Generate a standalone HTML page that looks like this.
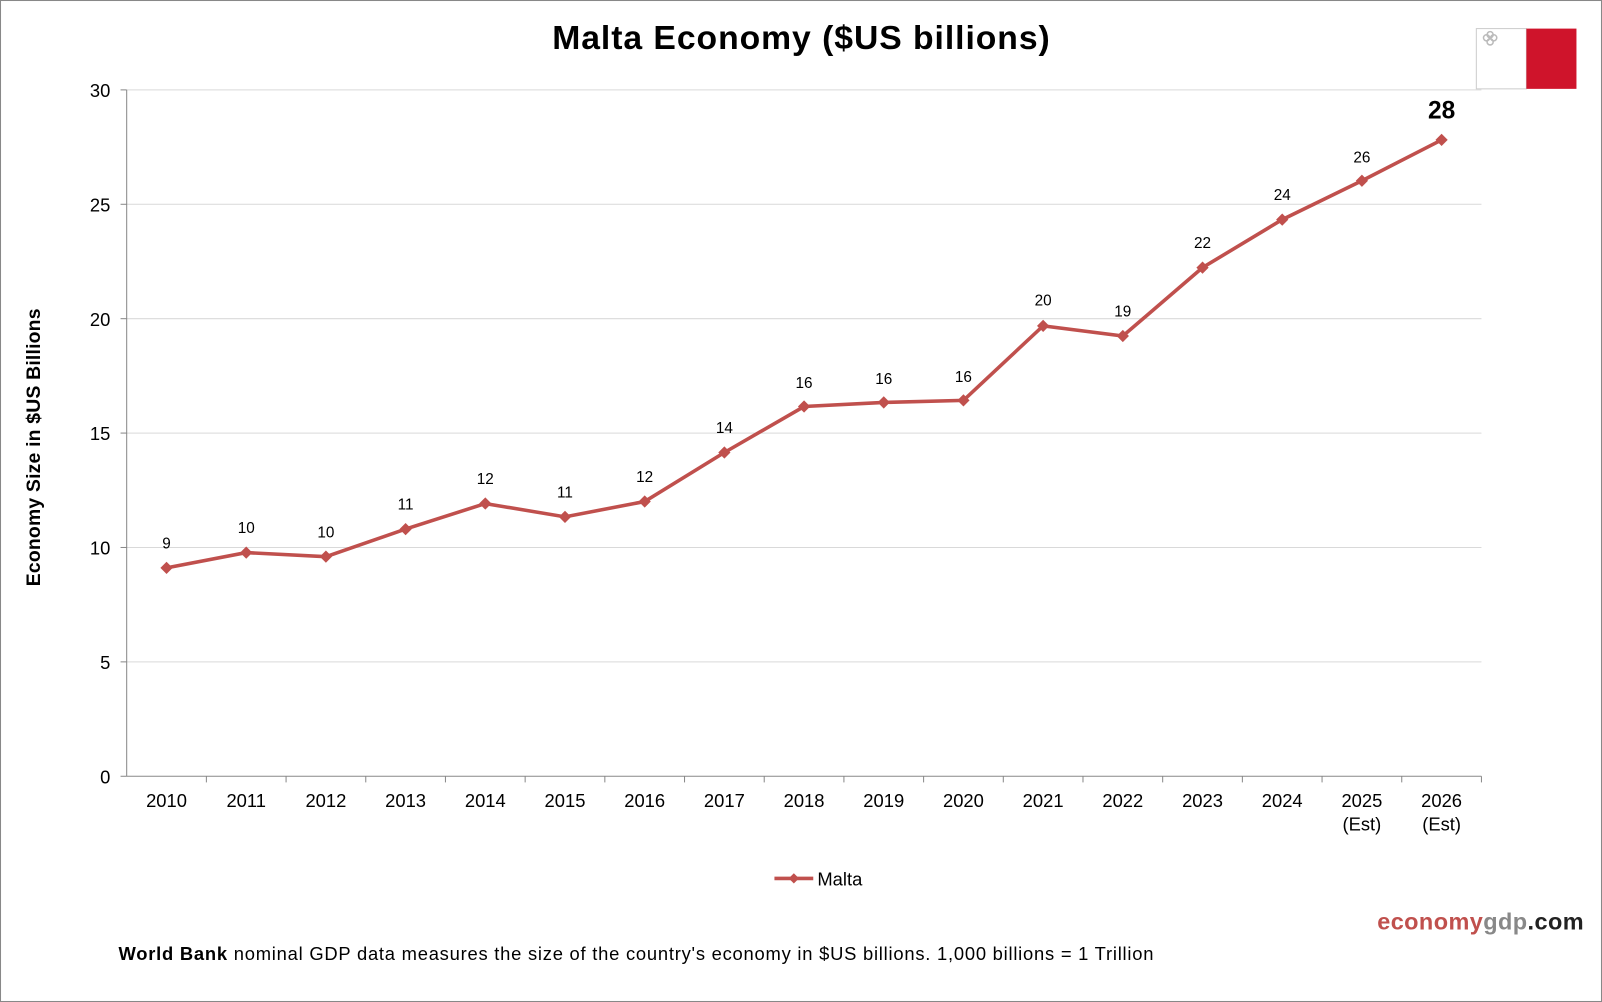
<!DOCTYPE html>
<html><head><meta charset="utf-8"><style>html,body{margin:0;padding:0;background:#fff}svg{display:block}</style></head>
<body>
<svg width="1602" height="1002" viewBox="0 0 1568 981" preserveAspectRatio="none" xmlns="http://www.w3.org/2000/svg" font-family="Liberation Sans, Arial, sans-serif">
<rect x="0.5" y="0.5" width="1567" height="980" fill="#fff" stroke="#888"/>
<text x="784" y="48" text-anchor="middle" font-size="33" font-weight="bold" textLength="487">Malta Economy ($US billions)</text>
<rect x="1445" y="28" width="49" height="59" fill="#fff" stroke="#ccc"/>
<rect x="1494" y="28" width="49" height="59" fill="#cf142b"/>
<g stroke="#bbb" stroke-width="1.5" fill="none"><circle cx="1455" cy="37" r="3"/><circle cx="1462" cy="37" r="3"/><circle cx="1458.5" cy="34" r="3"/><circle cx="1458.5" cy="41" r="3"/></g>
<g stroke="#d9d9d9" stroke-width="1">
<line x1="124" y1="88" x2="1450" y2="88"/><line x1="124" y1="200" x2="1450" y2="200"/><line x1="124" y1="312" x2="1450" y2="312"/><line x1="124" y1="424" x2="1450" y2="424"/><line x1="124" y1="536" x2="1450" y2="536"/><line x1="124" y1="648" x2="1450" y2="648"/>
</g>
<g stroke="#888" stroke-width="1">
<line x1="124" y1="88" x2="124" y2="760"/><line x1="124" y1="760" x2="1450" y2="760"/>
<line x1="118" y1="88" x2="124" y2="88"/><line x1="118" y1="200" x2="124" y2="200"/><line x1="118" y1="312" x2="124" y2="312"/><line x1="118" y1="424" x2="124" y2="424"/><line x1="118" y1="536" x2="124" y2="536"/><line x1="118" y1="648" x2="124" y2="648"/><line x1="118" y1="760" x2="124" y2="760"/>
<line x1="202" y1="760" x2="202" y2="766"/><line x1="280" y1="760" x2="280" y2="766"/><line x1="358" y1="760" x2="358" y2="766"/><line x1="436" y1="760" x2="436" y2="766"/><line x1="514" y1="760" x2="514" y2="766"/><line x1="592" y1="760" x2="592" y2="766"/><line x1="670" y1="760" x2="670" y2="766"/><line x1="748" y1="760" x2="748" y2="766"/><line x1="826" y1="760" x2="826" y2="766"/><line x1="904" y1="760" x2="904" y2="766"/><line x1="982" y1="760" x2="982" y2="766"/><line x1="1060" y1="760" x2="1060" y2="766"/><line x1="1138" y1="760" x2="1138" y2="766"/><line x1="1216" y1="760" x2="1216" y2="766"/><line x1="1294" y1="760" x2="1294" y2="766"/><line x1="1372" y1="760" x2="1372" y2="766"/><line x1="1450" y1="760" x2="1450" y2="766"/>
</g>
<g font-size="18" text-anchor="end">
<text x="108" y="95">30</text><text x="108" y="207">25</text><text x="108" y="319">20</text><text x="108" y="431">15</text><text x="108" y="543">10</text><text x="108" y="655">5</text><text x="108" y="767">0</text>
</g>
<text transform="translate(39,438) rotate(-90)" text-anchor="middle" font-size="19" font-weight="bold" textLength="272">Economy Size in $US Billions</text>
<g font-size="18" text-anchor="middle">
<text x="163" y="790">2010</text><text x="241" y="790">2011</text><text x="319" y="790">2012</text><text x="397" y="790">2013</text><text x="475" y="790">2014</text><text x="553" y="790">2015</text><text x="631" y="790">2016</text><text x="709" y="790">2017</text><text x="787" y="790">2018</text><text x="865" y="790">2019</text><text x="943" y="790">2020</text><text x="1021" y="790">2021</text><text x="1099" y="790">2022</text><text x="1177" y="790">2023</text><text x="1255" y="790">2024</text><text x="1333" y="790">2025</text><text x="1411" y="790">2026</text>
<text x="1333" y="813">(Est)</text><text x="1411" y="813">(Est)</text>
</g>
<polyline fill="none" stroke="#c0504d" stroke-width="3.5" points="163,556 241,541 319,545 397,518 475,493 553,506 631,491 709,443 787,398 865,394 943,392 1021,319 1099,329 1177,262 1255,215 1333,177 1411,137"/>
<g fill="#c0504d">
<path d="M163,550l6,6l-6,6l-6,-6z"/><path d="M241,535l6,6l-6,6l-6,-6z"/><path d="M319,539l6,6l-6,6l-6,-6z"/><path d="M397,512l6,6l-6,6l-6,-6z"/><path d="M475,487l6,6l-6,6l-6,-6z"/><path d="M553,500l6,6l-6,6l-6,-6z"/><path d="M631,485l6,6l-6,6l-6,-6z"/><path d="M709,437l6,6l-6,6l-6,-6z"/><path d="M787,392l6,6l-6,6l-6,-6z"/><path d="M865,388l6,6l-6,6l-6,-6z"/><path d="M943,386l6,6l-6,6l-6,-6z"/><path d="M1021,313l6,6l-6,6l-6,-6z"/><path d="M1099,323l6,6l-6,6l-6,-6z"/><path d="M1177,256l6,6l-6,6l-6,-6z"/><path d="M1255,209l6,6l-6,6l-6,-6z"/><path d="M1333,171l6,6l-6,6l-6,-6z"/><path d="M1411,131l6,6l-6,6l-6,-6z"/>
</g>
<g font-size="15" text-anchor="middle">
<text x="163" y="537">9</text><text x="241" y="522">10</text><text x="319" y="526">10</text><text x="397" y="499">11</text><text x="475" y="474">12</text><text x="553" y="487">11</text><text x="631" y="472">12</text><text x="709" y="424">14</text><text x="787" y="380">16</text><text x="865" y="376">16</text><text x="943" y="374">16</text><text x="1021" y="299">20</text><text x="1099" y="310">19</text><text x="1177" y="243">22</text><text x="1255" y="196">24</text><text x="1333" y="159">26</text>
</g>
<text x="1411" y="116" text-anchor="middle" font-size="24" font-weight="bold">28</text>
<line x1="758" y1="860" x2="796" y2="860" stroke="#c0504d" stroke-width="3.5"/>
<path d="M777,855l5,5l-5,5l-5,-5z" fill="#c0504d"/>
<text x="800" y="867" font-size="18">Malta</text>
<text x="1348" y="910" font-size="23" font-weight="bold" textLength="202"><tspan fill="#c0504d">economy</tspan><tspan fill="#888">gdp</tspan><tspan fill="#222">.com</tspan></text>
<text x="116" y="940" font-size="18" textLength="1013"><tspan font-weight="bold">World Bank</tspan> nominal GDP data  measures the size of the country's economy in $US billions.  1,000 billions = 1 Trillion</text>
</svg>
</body></html>
